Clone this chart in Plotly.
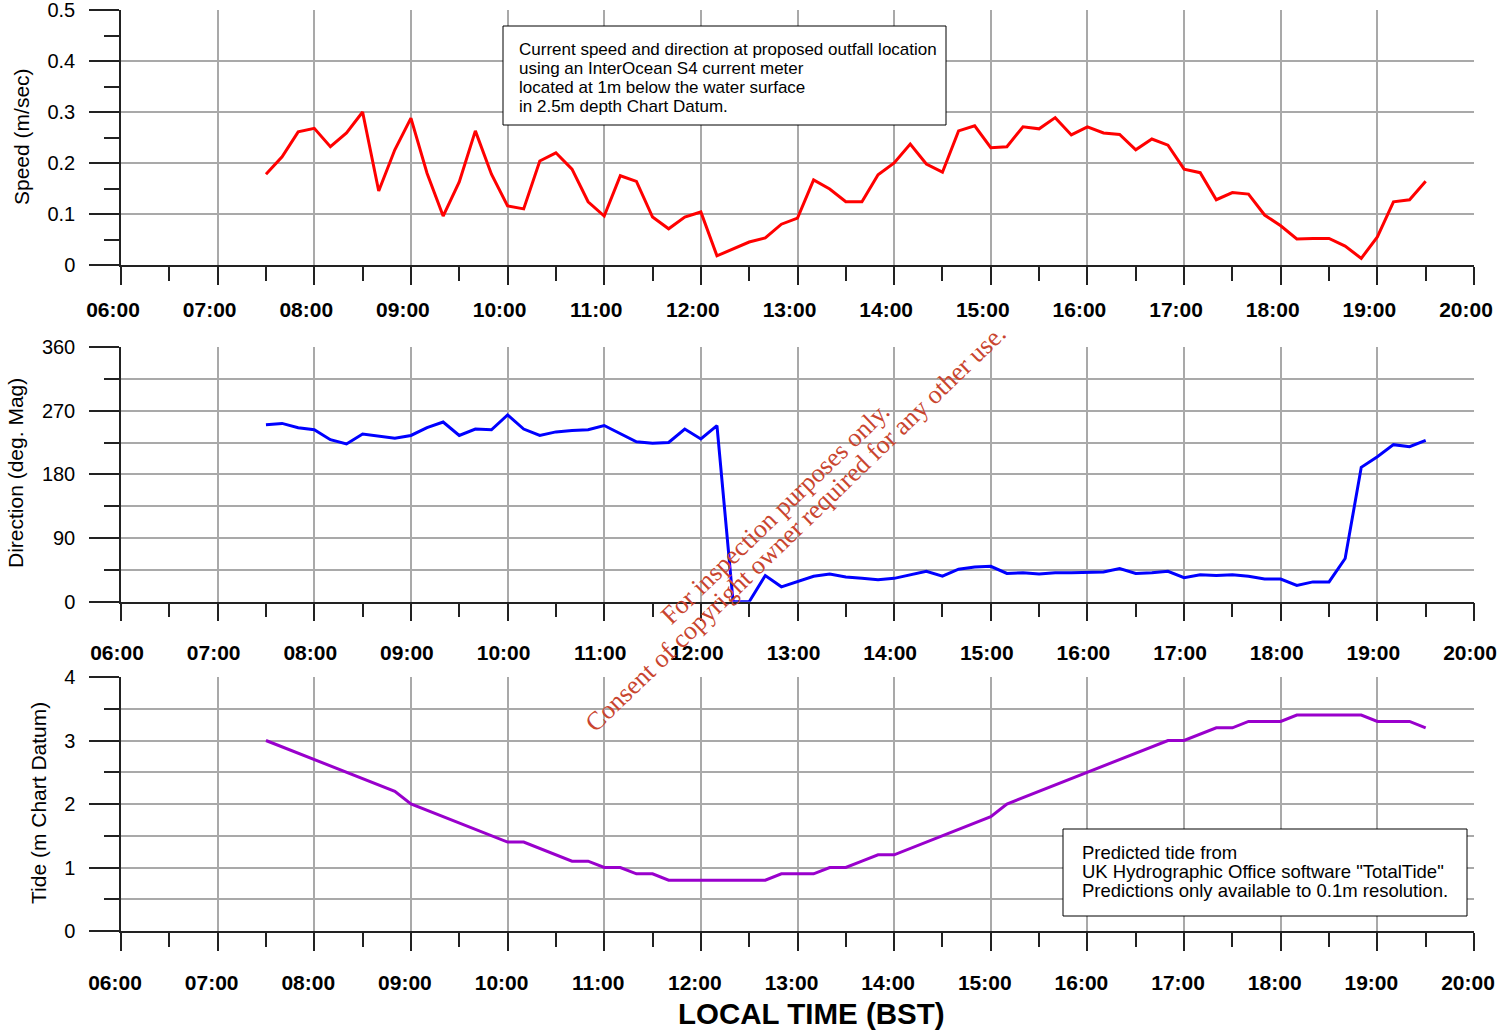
import plotly.graph_objects as go

# ---------------- data ----------------
TIMES = ["07:30", "07:40", "07:50", "08:00", "08:10", "08:20", "08:30", "08:40", "08:50", "09:00",
         "09:10", "09:20", "09:30", "09:40", "09:50", "10:00", "10:10", "10:20", "10:30", "10:40",
         "10:50", "11:00", "11:10", "11:20", "11:30", "11:40", "11:50", "12:00", "12:10", "12:20",
         "12:30", "12:40", "12:50", "13:00", "13:10", "13:20", "13:30", "13:40", "13:50", "14:00",
         "14:10", "14:20", "14:30", "14:40", "14:50", "15:00", "15:10", "15:20", "15:30", "15:40",
         "15:50", "16:00", "16:10", "16:20", "16:30", "16:40", "16:50", "17:00", "17:10", "17:20",
         "17:30", "17:40", "17:50", "18:00", "18:10", "18:20", "18:30", "18:40", "18:50", "19:00",
         "19:10", "19:20", "19:30"]

SPEED = [0.178, 0.212, 0.261, 0.268, 0.232, 0.259, 0.300, 0.145, 0.226, 0.288,
         0.180, 0.096, 0.163, 0.263, 0.178, 0.116, 0.110, 0.204, 0.220, 0.188,
         0.124, 0.096, 0.175, 0.164, 0.094, 0.071, 0.094, 0.104, 0.018, 0.031,
         0.045, 0.053, 0.080, 0.092, 0.167, 0.149, 0.124, 0.124, 0.177, 0.200,
         0.237, 0.198, 0.182, 0.263, 0.273, 0.230, 0.232, 0.271, 0.267, 0.289,
         0.255, 0.271, 0.259, 0.256, 0.226, 0.247, 0.235, 0.188, 0.181, 0.128,
         0.142, 0.139, 0.098, 0.077, 0.051, 0.052, 0.052, 0.037, 0.013, 0.055,
         0.124, 0.128, 0.164]

DIRECTION = [250, 252, 246, 243, 229, 223, 237, 234, 231, 235,
             246, 254, 235, 244, 243, 264, 244, 235, 240, 242,
             243, 249, 237, 226, 224, 225, 244, 230, 249, 0,
             0, 37, 21, 28, 36, 39, 35, 33, 31, 33,
             38, 43, 36, 46, 49, 50, 40, 41, 39, 41,
             41, 42, 42, 47, 40, 41, 43, 34, 38, 37,
             38, 36, 32, 32, 23, 28, 28, 61, 190, 205,
             222, 219, 228]

TIDE = [3.0, 2.9, 2.8, 2.7, 2.6, 2.5, 2.4, 2.3, 2.2, 2.0,
        1.9, 1.8, 1.7, 1.6, 1.5, 1.4, 1.4, 1.3, 1.2, 1.1,
        1.1, 1.0, 1.0, 0.9, 0.9, 0.8, 0.8, 0.8, 0.8, 0.8,
        0.8, 0.8, 0.9, 0.9, 0.9, 1.0, 1.0, 1.1, 1.2, 1.2,
        1.3, 1.4, 1.5, 1.6, 1.7, 1.8, 2.0, 2.1, 2.2, 2.3,
        2.4, 2.5, 2.6, 2.7, 2.8, 2.9, 3.0, 3.0, 3.1, 3.2,
        3.2, 3.3, 3.3, 3.3, 3.4, 3.4, 3.4, 3.4, 3.4, 3.3,
        3.3, 3.3, 3.2]

X_TICK_LABELS = ["06:00", "07:00", "08:00", "09:00", "10:00", "11:00", "12:00",
                 "13:00", "14:00", "15:00", "16:00", "17:00", "18:00", "19:00", "20:00"]
SPEED_TICKS = [0, 0.1, 0.2, 0.3, 0.4, 0.5]
DIR_TICKS = [0, 90, 180, 270, 360]
TIDE_TICKS = [0, 1, 2, 3, 4]

NOTE_CURRENT = ["Current speed and direction at proposed outfall location",
                "using an InterOcean S4 current meter",
                "located at 1m below the water surface",
                "in 2.5m depth Chart Datum."]
NOTE_TIDE = ["Predicted tide from",
             "UK Hydrographic Office software \"TotalTide\"",
             "Predictions only available to 0.1m resolution."]

DAY = "2000-01-01 "
x_vals = [DAY + t for t in TIMES]
x_ticks = [DAY + t for t in X_TICK_LABELS]

# ---------------- layout geometry ----------------
W, H = 1499, 1030
L, R, T, B = 121, 25, 10, 99
PW, PH = W - L - R, H - T - B


def fx(px):
    return (px - L) / PW


def fy(py):
    return (H - B - py) / PH


FONT = "Liberation Sans, Arial, sans-serif"
GRID = "#a9a9a9"
AX = "#222222"

fig = go.Figure()
fig.add_trace(go.Scatter(x=x_vals, y=SPEED, mode="lines", line=dict(color="#ff0000", width=3),
                         xaxis="x", yaxis="y", showlegend=False))
fig.add_trace(go.Scatter(x=x_vals, y=DIRECTION, mode="lines", line=dict(color="#0000ff", width=3),
                         xaxis="x2", yaxis="y2", showlegend=False))
fig.add_trace(go.Scatter(x=x_vals, y=TIDE, mode="lines", line=dict(color="#9900cc", width=3),
                         xaxis="x3", yaxis="y3", showlegend=False))


def xaxis(anchor, standoff, shift):
    return dict(
        type="date", anchor=anchor, domain=[0, 1], automargin=False,
        range=[x_ticks[0], x_ticks[-1]],
        tickmode="array", tickvals=x_ticks, ticktext=X_TICK_LABELS,
        ticks="outside", ticklen=18, tickwidth=1.5, tickcolor=AX,
        showgrid=True, gridcolor=GRID, gridwidth=1.5,
        showline=True, linecolor=AX, linewidth=1.5,
        zeroline=False, ticklabeloverflow="allow",
        tickfont=dict(family=FONT, size=21, color="#000", weight="bold"),
        ticklabelstandoff=standoff, ticklabelshift=shift,
        minor=dict(dtick=1800000, tick0=x_ticks[0], ticks="outside", ticklen=14,
                   tickwidth=1.5, tickcolor=AX, showgrid=False),
    )


def yaxis(anchor, domain, rng, tickvals, minor_dtick, minor_grid):
    return dict(
        anchor=anchor, domain=domain, range=rng, automargin=False,
        tickmode="array", tickvals=tickvals,
        ticks="outside", ticklen=30, tickwidth=1.5, tickcolor=AX,
        showgrid=True, gridcolor=GRID, gridwidth=1.5,
        showline=True, linecolor=AX, linewidth=1.5,
        zeroline=False, ticklabeloverflow="allow",
        tickfont=dict(family=FONT, size=20, color="#000"),
        ticklabelstandoff=10,
        minor=dict(dtick=minor_dtick, tick0=0, ticks="outside", ticklen=15,
                   tickwidth=1.5, tickcolor=AX, showgrid=minor_grid,
                   gridcolor=GRID, gridwidth=1.5),
    )


fig.update_layout(
    width=W, height=H, autosize=False,
    margin=dict(l=L, r=R, t=T, b=B, pad=0, autoexpand=False),
    paper_bgcolor="white", plot_bgcolor="white",
    xaxis=xaxis("y", 7, -8),
    xaxis2=xaxis("y2", 13, -4),
    xaxis3=xaxis("y3", 14, -6),
    yaxis=yaxis("x", [fy(265), fy(10)], [0, 0.5], SPEED_TICKS, 0.05, False),
    yaxis2=yaxis("x2", [fy(601.7), fy(347)], [0, 360], DIR_TICKS, 45, True),
    yaxis3=yaxis("x3", [0, fy(677)], [0, 4], TIDE_TICKS, 0.5, True),
)

ann = []
# axis titles
for txt, px, py in [("Speed (m/sec)", 22, 137), ("Direction (deg. Mag)", 15, 473),
                    ("Tide (m Chart Datum)", 38, 803)]:
    ann.append(dict(text=txt, x=fx(px), y=fy(py), textangle=-90, xref="paper", yref="paper",
                    showarrow=False, xanchor="center", yanchor="middle",
                    font=dict(family=FONT, size=21, color="#000")))
ann.append(dict(text="LOCAL TIME (BST)", x=fx(811), y=fy(1013), xref="paper", yref="paper",
                showarrow=False, xanchor="center", yanchor="middle",
                font=dict(family=FONT, size=29.5, color="#000", weight="bold")))

# info boxes
fig.add_shape(type="rect", xref="paper", yref="paper", x0=fx(503), x1=fx(946), y0=fy(125), y1=fy(26),
              line=dict(color="#000", width=1), fillcolor="white", layer="above")
fig.add_shape(type="rect", xref="paper", yref="paper", x0=fx(1063), x1=fx(1467), y0=fy(916), y1=fy(829),
              line=dict(color="#000", width=1), fillcolor="white", layer="above")
for line_txt, py in zip(NOTE_CURRENT, [49, 68, 87, 106]):
    ann.append(dict(text=line_txt, x=fx(517), y=fy(py), xref="paper", yref="paper", showarrow=False,
                    xanchor="left", yanchor="middle", align="left",
                    font=dict(family=FONT, size=17, color="#000")))
for line_txt, py in zip(NOTE_TIDE, [852, 871, 890]):
    ann.append(dict(text=line_txt, x=fx(1080), y=fy(py), xref="paper", yref="paper", showarrow=False,
                    xanchor="left", yanchor="middle", align="left",
                    font=dict(family=FONT, size=18.5, color="#000")))

# watermark
WM = "#c9452f"
for txt, px, py in [("For inspection purposes only.", 775, 513),
                    ("Consent of copyright owner required for any other use.", 795, 528)]:
    ann.append(dict(text=txt, x=fx(px), y=fy(py), textangle=-44, xref="paper", yref="paper",
                    showarrow=False, xanchor="center", yanchor="middle",
                    font=dict(family="Liberation Serif, Times New Roman, serif", size=26, color=WM)))

fig.update_layout(annotations=ann)

fig.write_html("out.html", config={"displayModeBar": False},
               post_script="document.body.style.margin='0';")
